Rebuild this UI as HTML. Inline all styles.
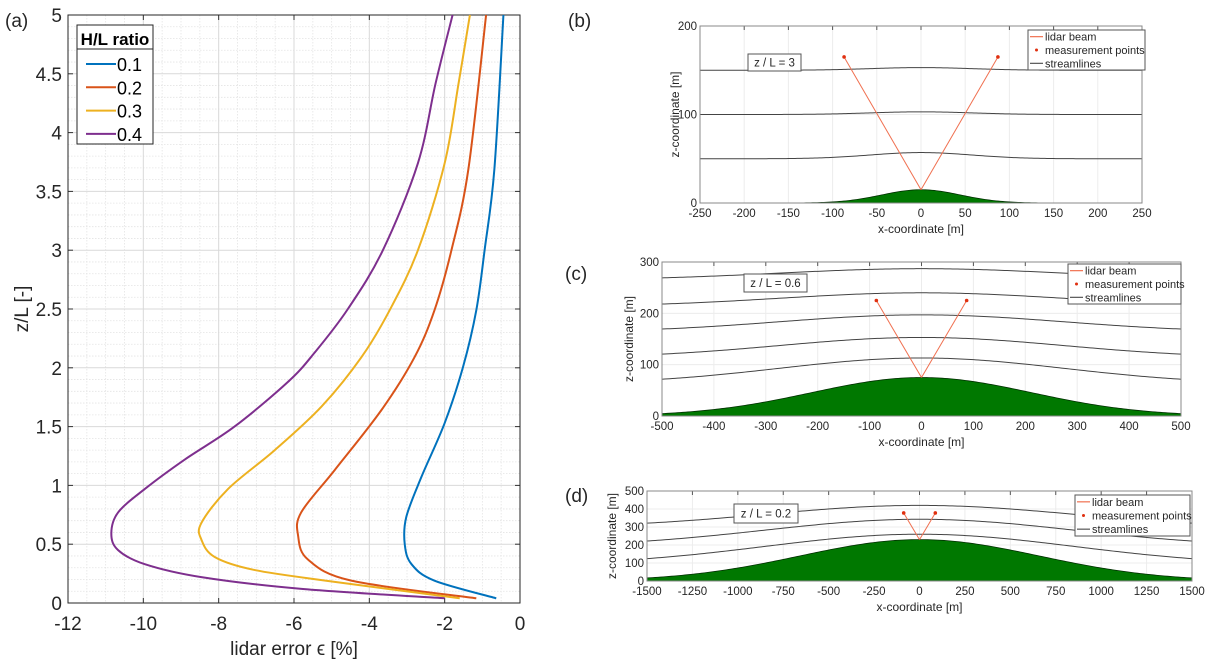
<!DOCTYPE html>
<html><head><meta charset="utf-8">
<style>
html,body{margin:0;padding:0;background:#fff;}
svg{display:block;font-family:"Liberation Sans",Arial,sans-serif;}
</style></head>
<body>
<svg id="fig" width="1213" height="671" viewBox="0 0 1213 671" xmlns="http://www.w3.org/2000/svg">
<g id="pa"></g>
<g id="pb"></g>
<g id="pc"></g>
<g id="pd"></g>
</svg>
<script>
// ---------- Panel (a) data ----------
const seriesLabels = ["0.1","0.2","0.3","0.4"];
const seriesColors = ["#0072BD","#D95319","#EDB120","#7E2F8E"];
const s01x = [-0.44,-0.68,-0.94,-1.16,-1.51,-2.0,-2.62,-3.02,-3.06,-2.88,-2.27,-0.63];
const s01y = [5,3.69,3.0,2.49,2.01,1.53,1.07,0.73,0.5,0.33,0.19,0.04];
const s02x = [-0.9,-1.37,-1.82,-2.27,-2.8,-3.68,-4.92,-5.81,-5.89,-5.63,-4.48,-1.16];
const s02y = [5,3.69,3.0,2.49,2.09,1.64,1.13,0.77,0.57,0.37,0.19,0.04];
const s03x = [-1.33,-1.63,-2.0,-2.71,-3.46,-4.21,-5.27,-6.51,-7.75,-8.46,-8.46,-8.1,-7.04,-4.92,-1.6];
const s03y = [5,4.42,3.74,3.0,2.49,2.09,1.67,1.3,0.97,0.68,0.54,0.39,0.28,0.18,0.04];
const s04x = [-1.79,-2.24,-2.71,-3.64,-4.57,-5.45,-6.16,-7.58,-8.9,-9.96,-10.67,-10.85,-10.67,-9.96,-8.46,-5.8,-2.0];
const s04y = [5,4.42,3.74,3.0,2.5,2.13,1.88,1.5,1.22,0.97,0.77,0.59,0.45,0.33,0.22,0.12,0.04];
const aXTicks = [-12,-10,-8,-6,-4,-2,0];
const aYTicks = [0,0.5,1,1.5,2,2.5,3,3.5,4,4.5,5];
const aYTickLabels = ["0","0.5","1","1.5","2","2.5","3","3.5","4","4.5","5"];

// ---------- Panels (b)-(d) data ----------
const bXTicks = [-250,-200,-150,-100,-50,0,50,100,150,200,250];
const bYTicks = [0,100,200];
const bHill = [15];
const bHillWidth = [63];
const bStreamBase = [50,100,150];
const bStreamBump = [7,3,3];
const bPoints = [[-87,165],[87,165]];

const cXTicks = [-500,-400,-300,-200,-100,0,100,200,300,400,500];
const cYTicks = [0,100,200,300];
const cHill = [75];
const cHillWidth = [300];
const cStreamBase = [62,113,163,213,265];
const cStreamBump = [51,40,34,27,22];
const cPoints = [[-87,225],[87,225]];

const dXTicks = [-1500,-1250,-1000,-750,-500,-250,0,250,500,750,1000,1250,1500];
const dYTicks = [0,100,200,300,400,500];
const dHill = [230];
const dHillWidth = [930];
const dStreamBase = [88,190,295];
const dStreamBump = [172,153,125];
const dPoints = [[-87,378],[87,378]];

const NS = "http://www.w3.org/2000/svg";
function mk(parent, tag, attrs, name, text){
  const el = document.createElementNS(NS, tag);
  for (const k in attrs) el.setAttribute(k, attrs[k]);
  
  
  if (text !== undefined) el.textContent = text;
  parent.appendChild(el);
  return el;
}

// ---------- Panel (a) ----------
(function(){
  const g = document.getElementById('pa');
  const X0=68, X1=520, Y0=603, Y1=15;
  const xs = v => X0 + (v+12)/12*(X1-X0);
  const ys = v => Y0 - v/5*(Y0-Y1);
  mk(g,'rect',{x:X0,y:Y1,width:X1-X0,height:Y0-Y1,fill:'#fff'},'plot-area');
  for (let v=-12; v<=0.001; v+=0.5){ if (Math.abs(v%2)>0.01) mk(g,'line',{x1:xs(v),x2:xs(v),y1:Y1,y2:Y0,stroke:'#e4e4e4','stroke-width':0.8,'stroke-dasharray':'1.5,1.5'},'minor-gridline-x'); }
  for (let v=0; v<=5.001; v+=0.1){ if (Math.abs((v*2)%1)>0.01 && Math.abs((v*2)%1-1)>0.01) mk(g,'line',{x1:X0,x2:X1,y1:ys(v),y2:ys(v),stroke:'#e4e4e4','stroke-width':0.8,'stroke-dasharray':'1.5,1.5'},'minor-gridline-y'); }
  aXTicks.forEach(v=>{
    mk(g,'line',{x1:xs(v),x2:xs(v),y1:Y1,y2:Y0,stroke:'#d9d9d9','stroke-width':1},'gridline-x');
    mk(g,'line',{x1:xs(v),x2:xs(v),y1:Y0,y2:Y0-5,stroke:'#333','stroke-width':1},'x-tick');
    mk(g,'line',{x1:xs(v),x2:xs(v),y1:Y1,y2:Y1+5,stroke:'#333','stroke-width':1},'x-tick-top');
    mk(g,'text',{x:xs(v),y:630,'font-size':19,'text-anchor':'middle',fill:'#262626'},'x-tick-label',String(v));
  });
  aYTicks.forEach((v,i)=>{
    mk(g,'line',{x1:X0,x2:X1,y1:ys(v),y2:ys(v),stroke:'#d9d9d9','stroke-width':1},'gridline-y');
    mk(g,'line',{x1:X0,x2:X0+5,y1:ys(v),y2:ys(v),stroke:'#333','stroke-width':1},'y-tick');
    mk(g,'line',{x1:X1,x2:X1-5,y1:ys(v),y2:ys(v),stroke:'#333','stroke-width':1},'y-tick-right');
    mk(g,'text',{x:X0-6,y:ys(v)+7,'font-size':19,'text-anchor':'end',fill:'#262626'},'y-tick-label',aYTickLabels[i]);
  });
  mk(g,'rect',{x:X0,y:Y1,width:X1-X0,height:Y0-Y1,fill:'none',stroke:'#262626','stroke-width':1},'plot-frame');
  const all = [[s01x,s01y],[s02x,s02y],[s03x,s03y],[s04x,s04y]];
  all.forEach((s,i)=>{
    const pts = s[0].map((x,j)=>[xs(x),ys(s[1][j])]);
    let d = 'M'+pts[0][0]+','+pts[0][1];
    for (let j=0;j<pts.length-1;j++){
      const p0=pts[Math.max(0,j-1)],p1=pts[j],p2=pts[j+1],p3=pts[Math.min(pts.length-1,j+2)];
      const c1=[p1[0]+(p2[0]-p0[0])/6,p1[1]+(p2[1]-p0[1])/6];
      const c2=[p2[0]-(p3[0]-p1[0])/6,p2[1]-(p3[1]-p1[1])/6];
      d+=' C'+c1+' '+c2+' '+p2;
    }
    mk(g,'path',{d:d,fill:'none',stroke:seriesColors[i],'stroke-width':2},'series-'+seriesLabels[i]);
  });
  mk(g,'text',{x:5,y:27,'font-size':19,fill:'#262626'},'panel-label-a','(a)');
  mk(g,'text',{x:294,y:655,'font-size':19,'text-anchor':'middle',fill:'#262626'},'x-axis-title','lidar error ϵ [%]');
  mk(g,'text',{x:28,y:309,'font-size':19,'text-anchor':'middle',fill:'#262626',transform:'rotate(-90 28 309)'},'y-axis-title','z/L [-]');
  const lg = mk(g,'g',{},'legend');
  mk(lg,'rect',{x:77,y:25,width:76,height:119,fill:'#fff',stroke:'#262626','stroke-width':1},'legend-box');
  mk(lg,'line',{x1:77,x2:153,y1:49,y2:49,stroke:'#262626','stroke-width':1},'legend-title-separator');
  mk(lg,'text',{x:115,y:45,'font-size':17,'font-weight':'bold','text-anchor':'middle',fill:'#000'},'legend-title','H/L ratio');
  seriesLabels.forEach((l,i)=>{
    const y = 64 + i*23.3;
    mk(lg,'line',{x1:86,x2:116,y1:y,y2:y,stroke:seriesColors[i],'stroke-width':2},'legend-swatch');
    mk(lg,'text',{x:117,y:y+7,'font-size':18,fill:'#000'},'legend-entry',l);
  });
})();

// ---------- Panels (b)-(d) ----------
function terrainPanel(id, box, xT, yT, hill, hw, base, bump, pts, letter, zl, lbox, tbox, ylabX, labY){
  const g = document.getElementById(id);
  const [X0,X1,Y1,Y0] = box;
  const xmin=xT[0], xmax=xT[xT.length-1], ymax=yT[yT.length-1];
  const xs = v => X0 + (v-xmin)/(xmax-xmin)*(X1-X0);
  const ys = v => Y0 - v/ymax*(Y0-Y1);
  const H = x => hill[0]*Math.exp(-Math.pow(x/hw[0],2));
  xT.forEach(v=>{
    mk(g,'line',{x1:xs(v),x2:xs(v),y1:Y1,y2:Y0,stroke:'#ececec','stroke-width':1},'gridline-x');
    mk(g,'line',{x1:xs(v),x2:xs(v),y1:Y1,y2:Y1+4,stroke:'#555','stroke-width':1},'x-tick');
    mk(g,'text',{x:xs(v),y:Y0+14,'font-size':11.5,'text-anchor':'middle',fill:'#262626'},'x-tick-label',String(v));
  });
  yT.forEach(v=>{
    mk(g,'line',{x1:X0,x2:X1,y1:ys(v),y2:ys(v),stroke:'#ececec','stroke-width':1},'gridline-y');
    mk(g,'text',{x:X0-3,y:ys(v)+4,'font-size':11.5,'text-anchor':'end',fill:'#262626'},'y-tick-label',String(v));
  });
  let d='M'+xs(xmin)+','+ys(0);
  for (let i=0;i<=200;i++){ const x=xmin+(xmax-xmin)*i/200; d+=' L'+xs(x).toFixed(2)+','+ys(H(x)).toFixed(2); }
  d+=' L'+xs(xmax)+','+ys(0)+' Z';
  mk(g,'path',{d:d,fill:'#007800',stroke:'#003000','stroke-width':0.8},'hill');
  base.forEach((b,k)=>{
    let p='';
    for (let i=0;i<=200;i++){ const x=xmin+(xmax-xmin)*i/200; const z=b+bump[k]*Math.exp(-Math.pow(x/hw[0],2)*0.6); p+=(i?' L':'M')+xs(x).toFixed(2)+','+ys(z).toFixed(2); }
    mk(g,'path',{d:p,fill:'none',stroke:'#444','stroke-width':1},'streamline');
  });
  pts.forEach(pt=>{
    mk(g,'line',{x1:xs(0),y1:ys(H(0)),x2:xs(pt[0]),y2:ys(pt[1]),stroke:'#f07050','stroke-width':1},'lidar-beam');
    mk(g,'circle',{cx:xs(pt[0]),cy:ys(pt[1]),r:1.8,fill:'#e03010'},'measurement-point');
  });
  mk(g,'rect',{x:X0,y:Y1,width:X1-X0,height:Y0-Y1,fill:'none',stroke:'#888','stroke-width':1},'plot-frame');
  mk(g,'text',{x:(X0+X1)/2,y:Y0+30,'font-size':12,'text-anchor':'middle',fill:'#262626'},'x-axis-title','x-coordinate [m]');
  mk(g,'text',{x:ylabX,y:(Y0+Y1)/2,'font-size':12,'text-anchor':'middle',fill:'#262626',transform:'rotate(-90 '+ylabX+' '+((Y0+Y1)/2)+')'},'y-axis-title','z-coordinate [m]');
  mk(g,'text',{x:labY[0],y:labY[1],'font-size':19,fill:'#262626'},'panel-label-'+letter,'('+letter+')');
  mk(g,'rect',{x:tbox[0],y:tbox[1],width:tbox[2],height:tbox[3],fill:'#fff',stroke:'#555','stroke-width':1},'annotation-box');
  mk(g,'text',{x:tbox[0]+tbox[2]/2,y:tbox[1]+tbox[3]/2+4,'font-size':11.5,'text-anchor':'middle',fill:'#262626'},'annotation-text',zl);
  const lg = mk(g,'g',{},'legend');
  const [lx,ly,lw,lh]=lbox;
  mk(lg,'rect',{x:lx,y:ly,width:lw,height:lh,fill:'#fff',stroke:'#555','stroke-width':1},'legend-box');
  const step=lh/3;
  mk(lg,'line',{x1:lx+2,x2:lx+15,y1:ly+step*0.5,y2:ly+step*0.5,stroke:'#f07050','stroke-width':1.2},'legend-swatch-beam');
  mk(lg,'text',{x:lx+17,y:ly+step*0.5+4,'font-size':11,fill:'#262626'},'legend-entry','lidar beam');
  mk(lg,'circle',{cx:lx+8.5,cy:ly+step*1.5,r:1.5,fill:'#e03010'},'legend-swatch-point');
  mk(lg,'text',{x:lx+17,y:ly+step*1.5+4,'font-size':11,fill:'#262626'},'legend-entry','measurement points');
  mk(lg,'line',{x1:lx+2,x2:lx+15,y1:ly+step*2.5,y2:ly+step*2.5,stroke:'#555','stroke-width':1.2},'legend-swatch-streamline');
  mk(lg,'text',{x:lx+17,y:ly+step*2.5+4,'font-size':11,fill:'#262626'},'legend-entry','streamlines');
}
terrainPanel('pb',[700,1142,26,203],bXTicks,bYTicks,bHill,bHillWidth,bStreamBase,bStreamBump,bPoints,'b','z / L = 3',[1028,30,117,40],[748,54,53,17],679,[568,27]);
terrainPanel('pc',[662,1181,262,416],cXTicks,cYTicks,cHill,cHillWidth,cStreamBase,cStreamBump,cPoints,'c','z / L = 0.6',[1068,264,113,40],[744,274,63,18],633,[565,280]);
terrainPanel('pd',[647,1192,491,581],dXTicks,dYTicks,dHill,dHillWidth,dStreamBase,dStreamBump,dPoints,'d','z / L = 0.2',[1075,495,115,41],[734,504,64,19],616,[565,502]);
</script>
</body></html>
